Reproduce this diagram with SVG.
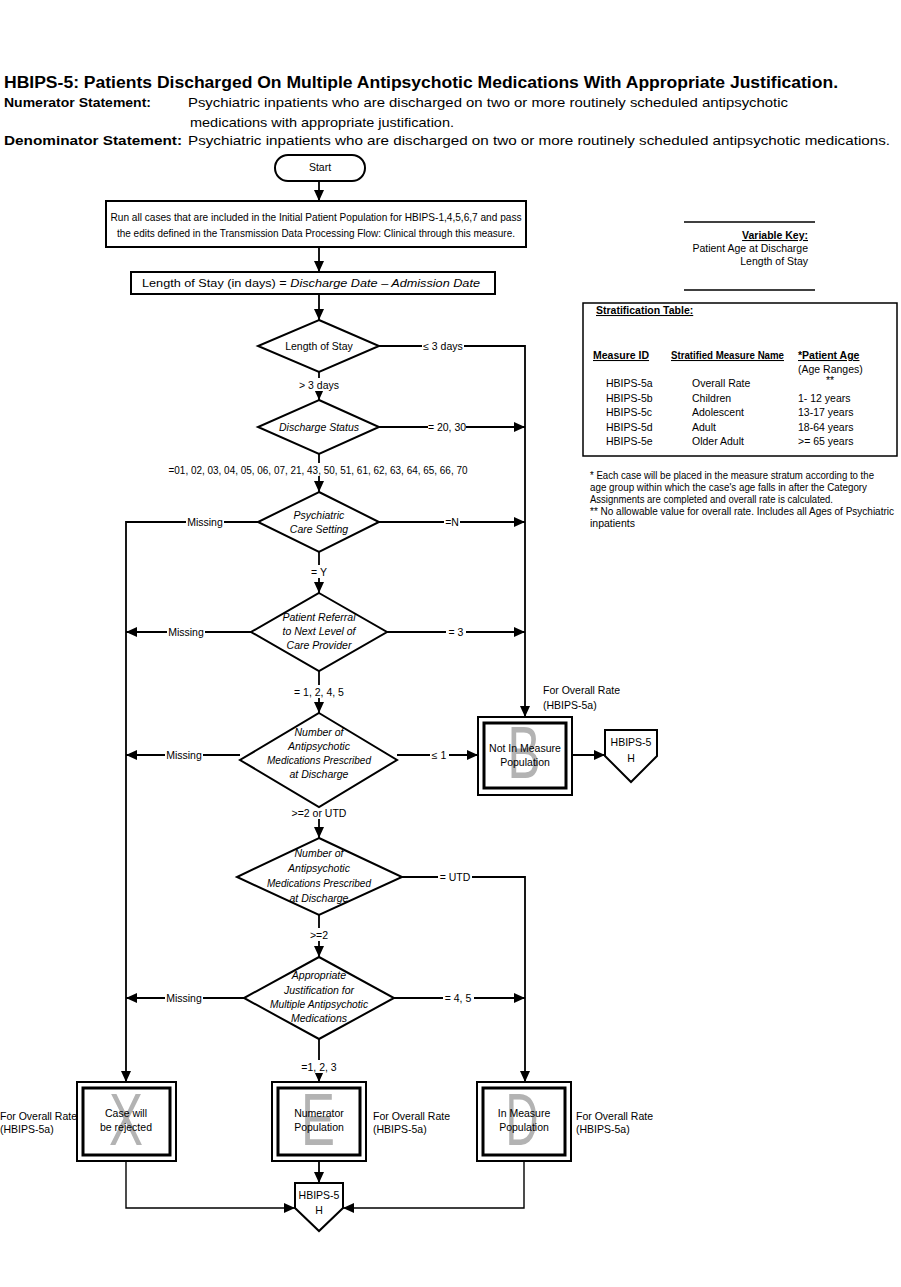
<svg xmlns="http://www.w3.org/2000/svg" width="901" height="1287" viewBox="0 0 901 1287">
<style>
text{font-family:"Liberation Sans",Arial,sans-serif;fill:#000}
.t{font-size:10.5px}
.c{text-anchor:middle}
.i{font-style:italic}
.b{font-weight:bold}
.u{text-decoration:underline}
.h{font-size:13px}
.ln{fill:none;stroke:#000;stroke-width:1.8}
.shape{fill:#fff;stroke:#000;stroke-width:2}
.inner{fill:#fff;stroke:#000;stroke-width:3}
.big{font-size:74px;fill:#b3b3b3;text-anchor:middle}
.bg{fill:#fff}
</style>
<defs>
<marker id="ah" markerUnits="userSpaceOnUse" markerWidth="11" markerHeight="10" refX="11" refY="5" orient="auto">
<path d="M0,0 L11,5 L0,10 z" fill="#000"/>
</marker>
</defs>
<rect width="901" height="1287" fill="#fff"/>

<g id="header">
<text x="4" y="88" class="b" font-size="16" textLength="834" lengthAdjust="spacingAndGlyphs">HBIPS-5:  Patients Discharged On Multiple Antipsychotic Medications With Appropriate Justification.</text>
<text x="4" y="107" class="b h" textLength="147" lengthAdjust="spacingAndGlyphs">Numerator Statement:</text>
<text x="188" y="107" class="h" textLength="600" lengthAdjust="spacingAndGlyphs">Psychiatric inpatients who are discharged on two or more routinely scheduled antipsychotic</text>
<text x="190" y="127" class="h" textLength="264" lengthAdjust="spacingAndGlyphs">medications with appropriate justification.</text>
<text x="4" y="145" class="b h" textLength="178" lengthAdjust="spacingAndGlyphs">Denominator Statement:</text>
<text x="188" y="145" class="h" textLength="702" lengthAdjust="spacingAndGlyphs">Psychiatric inpatients who are discharged on two or more routinely scheduled antipsychotic medications.</text>
</g>

<g id="connectors">
<path class="ln" d="M319,181 V201" marker-end="url(#ah)"/>
<path class="ln" d="M319,247 V272" marker-end="url(#ah)"/>
<path class="ln" d="M319,294 V320" marker-end="url(#ah)"/>
<path class="ln" d="M319,372 V400" marker-end="url(#ah)"/>
<path class="ln" d="M379,346 H525 V717" marker-end="url(#ah)"/>
<path class="ln" d="M379,427 H525" marker-end="url(#ah)"/>
<path class="ln" d="M319,454 V492" marker-end="url(#ah)"/>
<path class="ln" d="M258,522 H126 V1082" marker-end="url(#ah)"/>
<path class="ln" d="M379,522 H525" marker-end="url(#ah)"/>
<path class="ln" d="M319,552 V593" marker-end="url(#ah)"/>
<path class="ln" d="M251,632 H126" marker-end="url(#ah)"/>
<path class="ln" d="M387,632 H525" marker-end="url(#ah)"/>
<path class="ln" d="M319,671 V713" marker-end="url(#ah)"/>
<path class="ln" d="M240,755 H126" marker-end="url(#ah)"/>
<path class="ln" d="M397,755 H478" marker-end="url(#ah)"/>
<path class="ln" d="M572,755 H605" marker-end="url(#ah)"/>
<path class="ln" d="M319,807 V838" marker-end="url(#ah)"/>
<path class="ln" d="M402,877 H525 V1082" marker-end="url(#ah)"/>
<path class="ln" d="M319,915 V957" marker-end="url(#ah)"/>
<path class="ln" d="M244,998 H126" marker-end="url(#ah)"/>
<path class="ln" d="M394,998 H525" marker-end="url(#ah)"/>
<path class="ln" d="M319,1039 V1082" marker-end="url(#ah)"/>
<path class="ln" d="M319,1161 V1183" marker-end="url(#ah)"/>
<path class="ln" d="M126,1161 V1208 H295" marker-end="url(#ah)" style="stroke-width:1.4"/>
<path class="ln" d="M524,1161 V1208 H343" marker-end="url(#ah)" style="stroke-width:1.4"/>

<rect class="bg" x="422" y="340" width="42" height="12"/>
<text x="443" y="350" class="t c">≤ 3 days</text>
<rect class="bg" x="428" y="421" width="38" height="12"/>
<text x="447" y="431" class="t c">= 20, 30</text>
<rect class="bg" x="300" y="378" width="38" height="13"/>
<text x="319" y="389" class="t c">&gt; 3 days</text>
<rect class="bg" x="168" y="463" width="300" height="13"/>
<text x="318" y="474" class="t c" textLength="299" lengthAdjust="spacingAndGlyphs">=01, 02, 03, 04, 05, 06, 07, 21, 43, 50, 51, 61, 62, 63, 64, 65, 66, 70</text>
<rect class="bg" x="186" y="516" width="38" height="12"/>
<text x="205" y="526" class="t c">Missing</text>
<rect class="bg" x="444" y="516" width="16" height="12"/>
<text x="452" y="526" class="t c">=N</text>
<rect class="bg" x="309" y="565" width="20" height="13"/>
<text x="319" y="576" class="t c">= Y</text>
<rect class="bg" x="167" y="626" width="38" height="12"/>
<text x="186" y="636" class="t c">Missing</text>
<rect class="bg" x="446" y="626" width="20" height="12"/>
<text x="456" y="636" class="t c">= 3</text>
<rect class="bg" x="294" y="685" width="50" height="13"/>
<text x="319" y="696" class="t c">= 1, 2, 4, 5</text>
<rect class="bg" x="165" y="749" width="38" height="12"/>
<text x="184" y="759" class="t c">Missing</text>
<rect class="bg" x="430" y="749" width="19" height="12"/>
<text x="439" y="759" class="t c">≤ 1</text>
<rect class="bg" x="292" y="806" width="54" height="13"/>
<text x="319" y="817" class="t c">&gt;=2 or UTD</text>
<rect class="bg" x="438" y="871" width="34" height="12"/>
<text x="455" y="881" class="t c">= UTD</text>
<rect class="bg" x="308" y="928" width="22" height="13"/>
<text x="319" y="939" class="t c">&gt;=2</text>
<rect class="bg" x="165" y="992" width="38" height="12"/>
<text x="184" y="1002" class="t c">Missing</text>
<rect class="bg" x="443" y="992" width="31" height="12"/>
<text x="458" y="1002" class="t c">= 4, 5</text>
<rect class="bg" x="300" y="1060" width="38" height="13"/>
<text x="319" y="1071" class="t c">=1, 2, 3</text>
</g>

<g id="start">
<rect class="shape" x="275" y="155" width="90" height="26" rx="13"/>
<text x="320" y="171" class="t c">Start</text>
</g>

<g id="run-all">
<rect class="shape" x="106" y="201" width="420" height="46"/>
<text x="316" y="221" class="t c" textLength="411" lengthAdjust="spacingAndGlyphs">Run all cases that are included in the Initial Patient Population for HBIPS-1,4,5,6,7 and pass</text>
<text x="316" y="237" class="t c" textLength="398" lengthAdjust="spacingAndGlyphs">the edits defined in the Transmission Data Processing Flow: Clinical through this measure.</text>
</g>

<g id="los-calc">
<rect class="shape" x="131" y="272" width="364" height="22"/>
<text x="311" y="287" class="t c" textLength="338" lengthAdjust="spacingAndGlyphs">Length of Stay (in days)  = <tspan class="i">Discharge Date – Admission Date</tspan></text>
</g>

<g id="d-los">
<polygon class="shape" points="319,320 379,346 319,372 258,346"/>
<text x="319" y="350" class="t c">Length of Stay</text>
</g>

<g id="d-discharge-status">
<polygon class="shape" points="319,400 379,427 319,454 258,427"/>
<text x="319" y="431" class="t c i">Discharge Status</text>
</g>

<g id="d-psych-care">
<polygon class="shape" points="319,492 379,522 319,552 258,522"/>
<text x="319" y="519" class="t c i">Psychiatric</text>
<text x="319" y="533" class="t c i">Care Setting</text>
</g>

<g id="d-referral">
<polygon class="shape" points="319,593 387,632 319,671 251,632"/>
<text x="319" y="621" class="t c i">Patient Referral</text>
<text x="319" y="635" class="t c i">to Next Level of</text>
<text x="319" y="649" class="t c i">Care Provider</text>
</g>

<g id="d-num-meds-1">
<polygon class="shape" points="319,713 397,760 319,807 240,760"/>
<text x="319" y="736" class="t c i">Number of</text>
<text x="319" y="750" class="t c i">Antipsychotic</text>
<text x="319" y="764" class="t c i" textLength="104" lengthAdjust="spacingAndGlyphs">Medications Prescribed</text>
<text x="319" y="778" class="t c i">at Discharge</text>
</g>

<g id="d-num-meds-2">
<polygon class="shape" points="319,838 402,877 319,915 237,877"/>
<text x="319" y="857" class="t c i">Number of</text>
<text x="319" y="872" class="t c i">Antipsychotic</text>
<text x="319" y="887" class="t c i" textLength="104" lengthAdjust="spacingAndGlyphs">Medications Prescribed</text>
<text x="319" y="902" class="t c i">at Discharge</text>
</g>

<g id="d-justification">
<polygon class="shape" points="319,957 394,998 319,1039 244,998"/>
<text x="319" y="979" class="t c i">Appropriate</text>
<text x="319" y="994" class="t c i">Justification for</text>
<text x="319" y="1008" class="t c i" textLength="98" lengthAdjust="spacingAndGlyphs">Multiple Antipsychotic</text>
<text x="319" y="1022" class="t c i">Medications</text>
</g>

<g id="box-b">
<text x="543" y="694" class="t">For Overall Rate</text>
<text x="543" y="709" class="t">(HBIPS-5a)</text>
<rect class="shape" x="478" y="717" width="94" height="78"/>
<rect class="inner" x="484" y="723" width="82" height="65"/>
<text x="524" y="778" class="big" textLength="33" lengthAdjust="spacingAndGlyphs">B</text>
<text x="525" y="752" class="t c">Not In Measure</text>
<text x="525" y="766" class="t c">Population</text>
</g>

<g id="off-page-1">
<polygon class="shape" points="605,730 657,730 657,756 631,782 605,756"/>
<text x="631" y="746" class="t c">HBIPS-5</text>
<text x="631" y="762" class="t c">H</text>
</g>

<g id="box-x">
<text x="0" y="1120" class="t">For Overall Rate</text>
<text x="0" y="1133" class="t">(HBIPS-5a)</text>
<rect class="shape" x="77" y="1082" width="99" height="79"/>
<rect class="inner" x="83" y="1088" width="87" height="67"/>
<text x="126" y="1145" class="big" textLength="34" lengthAdjust="spacingAndGlyphs">X</text>
<text x="126" y="1117" class="t c">Case will</text>
<text x="126" y="1131" class="t c">be rejected</text>
</g>

<g id="box-e">
<text x="373" y="1120" class="t">For Overall Rate</text>
<text x="373" y="1133" class="t">(HBIPS-5a)</text>
<rect class="shape" x="272" y="1082" width="94" height="79"/>
<rect class="inner" x="278" y="1088" width="82" height="67"/>
<text x="318" y="1145" class="big" textLength="34" lengthAdjust="spacingAndGlyphs">E</text>
<text x="319" y="1117" class="t c">Numerator</text>
<text x="319" y="1131" class="t c">Population</text>
</g>

<g id="box-d">
<text x="576" y="1120" class="t">For Overall Rate</text>
<text x="576" y="1133" class="t">(HBIPS-5a)</text>
<rect class="shape" x="477" y="1082" width="94" height="79"/>
<rect class="inner" x="483" y="1088" width="82" height="67"/>
<text x="522" y="1145" class="big" textLength="33" lengthAdjust="spacingAndGlyphs">D</text>
<text x="524" y="1117" class="t c">In Measure</text>
<text x="524" y="1131" class="t c">Population</text>
</g>

<g id="off-page-2">
<polygon class="shape" points="295,1183 343,1183 343,1208 319,1231 295,1208"/>
<text x="319" y="1199" class="t c">HBIPS-5</text>
<text x="319" y="1214" class="t c">H</text>
</g>

<g id="variable-key">
<line x1="684" y1="222" x2="815" y2="222" stroke="#000" stroke-width="1.5"/>
<text x="808" y="239" class="t b u" text-anchor="end">Variable Key:</text>
<text x="808" y="252" class="t" text-anchor="end">Patient Age at Discharge</text>
<text x="808" y="265" class="t" text-anchor="end">Length of Stay</text>
<line x1="684" y1="290" x2="815" y2="290" stroke="#000" stroke-width="1.5"/>
</g>

<g id="stratification-table">
<rect x="583" y="303" width="314" height="153" fill="#fff" stroke="#000" stroke-width="1.5"/>
<text x="596" y="314" class="t b u">Stratification Table:</text>
<text x="593" y="359" class="t b u">Measure ID</text>
<text x="671" y="359" class="t b u" textLength="113" lengthAdjust="spacingAndGlyphs">Stratified Measure Name</text>
<text x="798" y="359" class="t b u">*Patient Age</text>
<text x="798" y="373" class="t">(Age Ranges)</text>
<text x="606" y="387" class="t">HBIPS-5a</text>
<text x="692" y="387" class="t">Overall Rate</text>
<text x="826" y="384" class="t">**</text>
<text x="606" y="402" class="t">HBIPS-5b</text>
<text x="692" y="402" class="t">Children</text>
<text x="798" y="402" class="t">1- 12 years</text>
<text x="606" y="416" class="t">HBIPS-5c</text>
<text x="692" y="416" class="t">Adolescent</text>
<text x="798" y="416" class="t">13-17 years</text>
<text x="606" y="431" class="t">HBIPS-5d</text>
<text x="692" y="431" class="t">Adult</text>
<text x="798" y="431" class="t">18-64 years</text>
<text x="606" y="445" class="t">HBIPS-5e</text>
<text x="692" y="445" class="t">Older Adult</text>
<text x="798" y="445" class="t">&gt;= 65 years</text>
</g>

<g id="footnotes">
<text x="590" y="479" class="t" textLength="284" lengthAdjust="spacingAndGlyphs">* Each case will be placed in the measure stratum  according to the</text>
<text x="590" y="491" class="t" textLength="277" lengthAdjust="spacingAndGlyphs">age group within which the case's age falls in  after the Category</text>
<text x="590" y="503" class="t" textLength="243" lengthAdjust="spacingAndGlyphs">Assignments are completed and overall rate is calculated.</text>
<text x="590" y="515" class="t" textLength="304" lengthAdjust="spacingAndGlyphs">** No allowable value for overall rate. Includes all Ages of Psychiatric</text>
<text x="590" y="527" class="t">inpatients</text>
</g>
</svg>
